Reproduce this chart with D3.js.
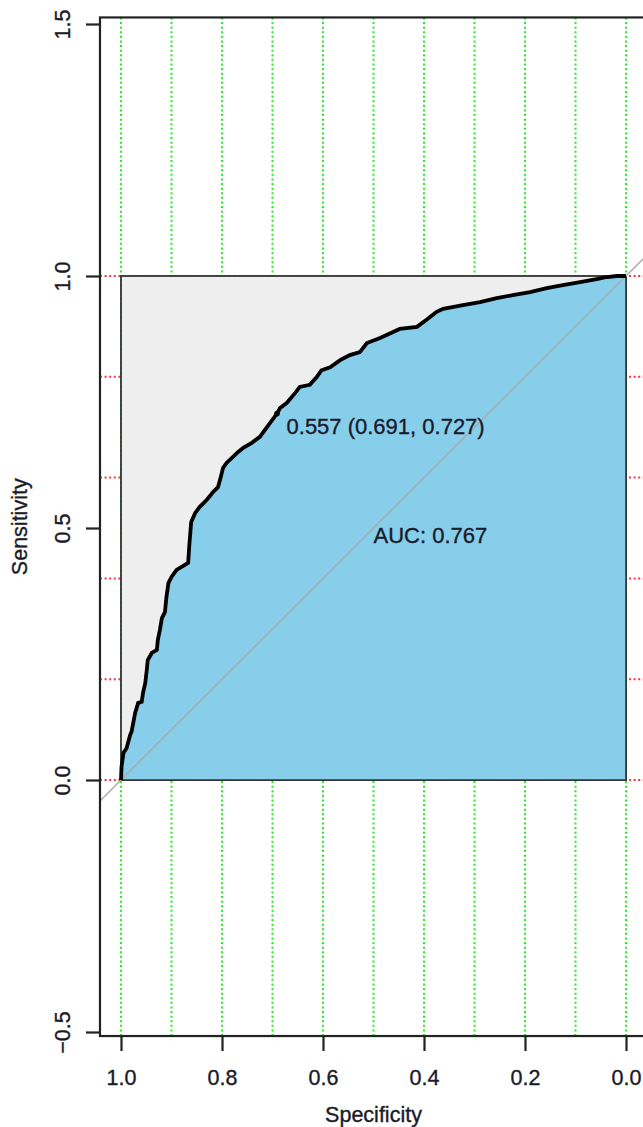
<!DOCTYPE html>
<html>
<head>
<meta charset="utf-8">
<script src="https://cdn.jsdelivr.net/npm/d3@7"></script>
<style>
  html, body { margin: 0; padding: 0; background: #fff; }
  svg { display: block; font-family: "Liberation Sans", Arial, sans-serif; }
  text { stroke: #1a1a2a; stroke-width: 0.35px; }
</style>
</head>
<body>
<svg id="chart" width="643" height="1127"></svg>
<script>
// ROC curve points (specificity decreasing, sensitivity increasing)
const specificity = [1.000, 0.999, 0.995, 0.989, 0.982, 0.979, 0.972, 0.966, 0.959, 0.956,
  0.952, 0.949, 0.947, 0.939, 0.929, 0.927, 0.923, 0.919, 0.913, 0.910,
  0.906, 0.900, 0.890, 0.867, 0.865, 0.861, 0.853, 0.844, 0.830, 0.818,
  0.808, 0.804, 0.798, 0.791, 0.768, 0.758, 0.741, 0.725, 0.711, 0.691,
  0.685, 0.672, 0.655, 0.646, 0.626, 0.612, 0.603, 0.586, 0.566, 0.547,
  0.527, 0.513, 0.487, 0.448, 0.414, 0.395, 0.375, 0.362, 0.323, 0.289,
  0.256, 0.224, 0.190, 0.157, 0.125, 0.091, 0.058, 0.038, 0.018, 0.000];
const sensitivity = [0.000, 0.026, 0.054, 0.063, 0.089, 0.096, 0.133, 0.153, 0.155, 0.175,
  0.192, 0.218, 0.238, 0.252, 0.258, 0.278, 0.298, 0.321, 0.333, 0.363,
  0.391, 0.403, 0.417, 0.431, 0.462, 0.512, 0.530, 0.542, 0.556, 0.571,
  0.581, 0.595, 0.619, 0.629, 0.651, 0.659, 0.669, 0.681, 0.700, 0.727,
  0.738, 0.748, 0.768, 0.780, 0.784, 0.800, 0.813, 0.819, 0.833, 0.843,
  0.849, 0.867, 0.877, 0.895, 0.899, 0.913, 0.929, 0.935, 0.942, 0.948,
  0.956, 0.962, 0.968, 0.976, 0.982, 0.988, 0.994, 0.998, 1.000, 1.000];

// Best threshold and its coordinates
const bestThreshold = [0.557];
const bestSpecificity = [0.691];
const bestSensitivity = [0.727];
const aucValue = [0.767];

// Axis ticks and grid positions
const xTicks = [1.0, 0.8, 0.6, 0.4, 0.2, 0.0];
const yTicks = [-0.5, 0.0, 0.5, 1.0, 1.5];
const gridV = d3.range(0, 11).map(i => i / 10);
const gridH = d3.range(0, 6).map(i => i / 5);

const xLim = [1.0416, -0.0416];
const yLim = [-0.508, 1.513];

const svg = d3.select("#chart");
const x = d3.scaleLinear().domain([1, 0]).range([121, 626]);
const y = d3.scaleLinear().domain([0, 1]).range([780, 276]);

const frameL = x(xLim[0]), frameR = x(xLim[1]);
const frameT = y(yLim[1]), frameB = y(yLim[0]);

svg.append("defs").append("clipPath").attr("id", "plotClip")
  .append("rect").attr("x", frameL).attr("y", frameT)
  .attr("width", frameR - frameL).attr("height", frameB - frameT);

const plot = svg.append("g").attr("clip-path", "url(#plotClip)");

// grid
plot.selectAll("line.gv").data(gridV).join("line")
  .attr("class", "gv")
  .attr("x1", d => x(d)).attr("x2", d => x(d))
  .attr("y1", frameT).attr("y2", frameB)
  .attr("stroke", "#22ee22").attr("stroke-width", 2)
  .attr("stroke-dasharray", "2,2.6");
plot.selectAll("line.gh").data(gridH).join("line")
  .attr("class", "gh")
  .attr("y1", d => y(d)).attr("y2", d => y(d))
  .attr("x1", frameL).attr("x2", frameR)
  .attr("stroke", "#ff3333").attr("stroke-width", 2)
  .attr("stroke-dasharray", "2,2.6");

// maximum AUC square
plot.append("rect")
  .attr("x", x(1)).attr("y", y(1))
  .attr("width", x(0) - x(1)).attr("height", y(0) - y(1))
  .attr("fill", "#EEEEEE").attr("stroke", "#333").attr("stroke-width", 1.8);

// AUC polygon
const pts = specificity.map((s, i) => [s, sensitivity[i]]);
const poly = pts.concat([[0, 0]]);
plot.append("path")
  .attr("d", d3.line().x(d => x(d[0])).y(d => y(d[1]))(poly) + "Z")
  .attr("fill", "#87CEEB").attr("stroke", "#333").attr("stroke-width", 1.6);

// identity line
plot.append("line")
  .attr("x1", x(xLim[0])).attr("y1", y(1 - xLim[0]))
  .attr("x2", x(xLim[1])).attr("y2", y(1 - xLim[1]))
  .attr("stroke", "#aaaaaa").attr("stroke-width", 1.4);

// ROC curve
plot.append("path")
  .attr("d", d3.line().x(d => x(d[0])).y(d => y(d[1]))(pts))
  .attr("fill", "none").attr("stroke", "#000").attr("stroke-width", 3.8)
  .attr("stroke-linejoin", "miter").attr("stroke-miterlimit", 2);

// threshold point and label
plot.append("circle")
  .attr("cx", x(bestSpecificity[0])).attr("cy", y(bestSensitivity[0]))
  .attr("r", 2.8).attr("fill", "#000");
const fmt3 = d3.format(".3f");
plot.append("text")
  .attr("x", x(bestSpecificity[0]) + 9.5).attr("y", y(bestSensitivity[0]) + 20)
  .attr("font-size", 22).attr("fill", "#1a1a2a")
  .text(`${fmt3(bestThreshold[0])} (${fmt3(bestSpecificity[0])}, ${fmt3(bestSensitivity[0])})`);

// AUC label
plot.append("text")
  .attr("x", x(0.5)).attr("y", y(0.5) + 15)
  .attr("font-size", 22).attr("fill", "#1a1a2a")
  .text(`AUC: ${fmt3(aucValue[0])}`);

// frame
svg.append("rect")
  .attr("x", frameL).attr("y", frameT)
  .attr("width", frameR - frameL).attr("height", frameB - frameT)
  .attr("fill", "none").attr("stroke", "#222").attr("stroke-width", 2.2);

// axes
const fmt1 = d3.format(".1f");
const xAxis = svg.append("g").attr("transform", `translate(0,${frameB})`)
  .call(d3.axisBottom(x).tickValues(xTicks).tickFormat(fmt1).tickSize(15).tickPadding(19));
const yAxis = svg.append("g").attr("transform", `translate(${frameL},0)`)
  .call(d3.axisLeft(y).tickValues(yTicks).tickFormat(fmt1).tickSize(14));
[xAxis, yAxis].forEach(g => {
  g.select(".domain").remove();
  g.selectAll(".tick line").attr("stroke", "#222").attr("stroke-width", 2.2);
  g.selectAll(".tick text").attr("font-size", 21.5).attr("fill", "#1a1a2a")
    .attr("font-family", "Liberation Sans, Arial, sans-serif");
});
yAxis.selectAll(".tick text")
  .attr("x", null).attr("dy", null)
  .attr("text-anchor", "middle")
  .attr("transform", "translate(-30,0) rotate(-90)");

// axis titles
svg.append("text")
  .attr("x", (frameL + frameR) / 2).attr("y", 1122)
  .attr("text-anchor", "middle").attr("font-size", 21.5).attr("fill", "#1a1a2a")
  .text("Specificity");
svg.append("text")
  .attr("transform", `translate(27,${(frameT + frameB) / 2}) rotate(-90)`)
  .attr("text-anchor", "middle").attr("font-size", 21.5).attr("fill", "#1a1a2a")
  .text("Sensitivity");
</script>
</body>
</html>
